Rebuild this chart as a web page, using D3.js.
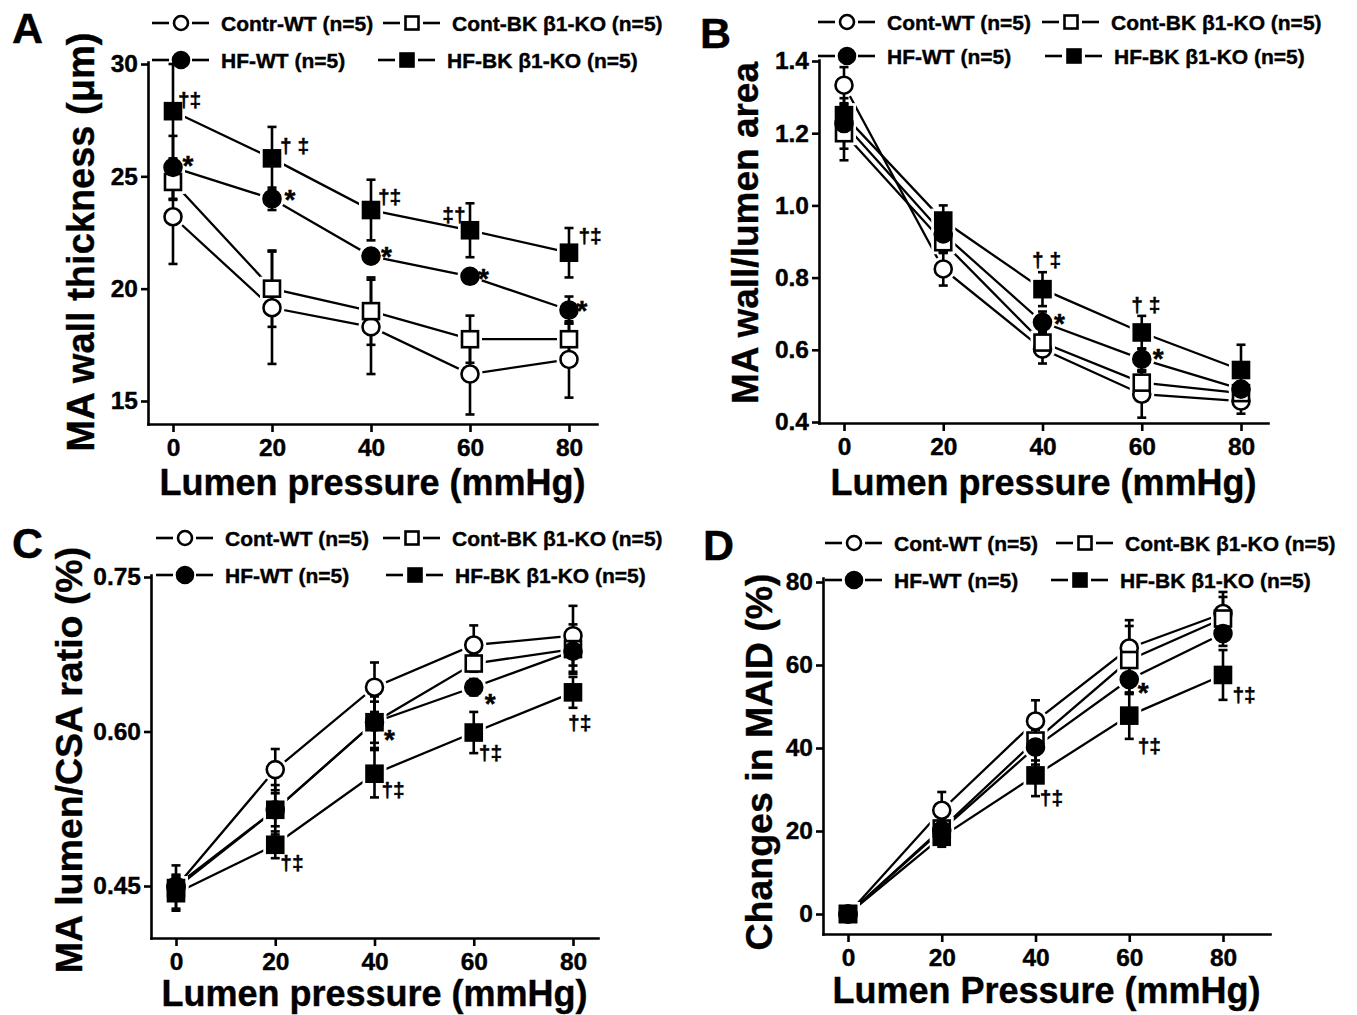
<!DOCTYPE html>
<html>
<head>
<meta charset="utf-8">
<script src="https://cdnjs.cloudflare.com/ajax/libs/d3/7.8.5/d3.min.js"></script>
<style>
  body { margin: 0; background: #fff; }
  svg text { font-family: "Liberation Sans", Arial, sans-serif; font-weight: bold; fill: #000; stroke: #000; stroke-width: 0.4px; }
</style>
</head>
<body>
<svg id="fig" width="1357" height="1015"></svg>
<script>
// lumen pressure steps (mmHg)
var pressure = [0, 20, 40, 60, 80];

// A - MA wall thickness (um), mean and SEM
var aContWT = [23.2, 19.15, 18.3, 16.2, 16.85],  aContWTErr = [2.1, 2.5, 2.1, 1.8, 1.7];
var aContBK = [24.75, 20.0, 19.0, 17.75, 17.75], aContBKErr = [0.8, 1.7, 1.5, 1.05, 0.7];
var aHfWT   = [25.4, 24.0, 21.45, 20.55, 19.05], aHfWTErr   = [1.4, 0.5, 0.3, 0.3, 0.6];
var aHfBK   = [27.9, 25.8, 23.5, 22.6, 21.6],    aHfBKErr   = [2.1, 1.4, 1.35, 1.2, 1.1];

// B - MA wall/lumen area
var bContWT = [1.333, 0.824, 0.602, 0.477, 0.458], bContWTErr = [0.05, 0.046, 0.04, 0.065, 0.035];
var bContBK = [1.20, 0.898, 0.62, 0.509, 0.48],    bContBKErr = [0.075, 0.03, 0.03, 0.03, 0.02];
var bHfWT   = [1.227, 0.921, 0.676, 0.574, 0.491], bHfWTErr   = [0.07, 0.05, 0.03, 0.03, 0.02];
var bHfBK   = [1.25, 0.958, 0.768, 0.648, 0.544],  bHfBKErr   = [0.03, 0.042, 0.047, 0.046, 0.07];

// C - MA lumen/CSA ratio
var cContWT = [0.449, 0.563, 0.643, 0.684, 0.693], cContWTErr = [0.012, 0.02, 0.024, 0.019, 0.029];
var cContBK = [0.448, 0.524, 0.609, 0.666, 0.680], cContBKErr = [0.022, 0.024, 0.02, 0.008, 0.024];
var cHfWT   = [0.450, 0.524, 0.609, 0.643, 0.678], cHfWTErr   = [0.01, 0.016, 0.025, 0.008, 0.02];
var cHfBK   = [0.443, 0.490, 0.559, 0.599, 0.638], cHfBKErr   = [0.015, 0.013, 0.023, 0.02, 0.015];

// D - changes in MAID (%)
var dContWT = [0, 25.0, 46.5, 64.1, 72.4], dContWTErr = [0.8, 4.4, 5.0, 6.7, 5.2];
var dContBK = [0, 20.6, 41.8, 61.2, 71.2], dContBKErr = [0.8, 2.5, 4.8, 8.2, 5.2];
var dHfWT   = [0, 20.2, 40.2, 56.5, 67.6], dHfWTErr   = [0.8, 2.0, 4.2, 3.3, 3.0];
var dHfBK   = [0, 18.6, 33.4, 47.8, 57.6], dHfBKErr   = [0.8, 2.4, 5.0, 5.6, 6.0];

// tick labels
var aTicks = [15, 20, 25, 30];
var bTicks = [0.4, 0.6, 0.8, 1.0, 1.2, 1.4];
var cTicks = [0.45, 0.60, 0.75];
var dTicks = [0, 20, 40, 60, 80];

// significance marks: [pressure, value, label]
var aMarks = [[1.0, 28.35, "†‡"], [1.9, 25.85, "*"], [21.6, 26.3, "† ‡"], [22.5, 24.3, "*"],
              [41.4, 24.06, "†‡"], [42, 21.8, "*"], [54.4, 23.26, "‡†"], [61.6, 20.8, "*"],
              [81.9, 22.3, "†‡"], [81.5, 19.4, "*"]];
var bMarks = [[37.9, 0.847, "† ‡"], [42.3, 0.694, "*"], [57.9, 0.722, "† ‡"], [62.2, 0.597, "*"]];
var cMarks = [[21, 0.472, "†‡"], [41.4, 0.543, "†‡"], [41.9, 0.600, "*"], [61, 0.578, "†‡"],
              [62.2, 0.635, "*"], [79, 0.608, "†‡"]];
var dMarks = [[61.8, 55.2, "*"], [40.9, 27.9, "†‡"], [61.8, 40.3, "†‡"], [82, 52.7, "†‡"]];

var svg = d3.select("#fig");

var symbols = [
  {shape: "circle", fill: "#fff"},
  {shape: "square", fill: "#fff"},
  {shape: "circle", fill: "#000"},
  {shape: "square", fill: "#000"}
];

var panels = [
  {letter: "A", lx: 12, ly: 43,
   left: 148, right: 597, top: 62, bottom: 424, x0: 173, x80: 569, yLo: 15, yLoPx: 401, yHi: 30, yHiPx: 64,
   ticks: aTicks, fmt: d3.format("d"),
   series: [[aContWT, aContWTErr], [aContBK, aContBKErr], [aHfWT, aHfWTErr], [aHfBK, aHfBKErr]],
   marks: aMarks,
   labels: ["Contr-WT (n=5)", "Cont-BK β1-KO (n=5)", "HF-WT (n=5)", "HF-BK β1-KO (n=5)"],
   leg: {x1: 152, x2: [383, 378], y: [23, 60]},
   ytitle: "MA wall thickness (μm)", ytx: 80, yty: 242, yts: 38,
   xtitle: "Lumen pressure (mmHg)", xtb: 495},
  {letter: "B", lx: 700, ly: 48,
   left: 819, right: 1268, top: 60, bottom: 423, x0: 844, x80: 1241, yLo: 0.4, yLoPx: 422, yHi: 1.4, yHiPx: 61,
   ticks: bTicks, fmt: d3.format(".1f"),
   series: [[bContWT, bContWTErr], [bContBK, bContBKErr], [bHfWT, bHfWTErr], [bHfBK, bHfBKErr]],
   marks: bMarks,
   labels: ["Cont-WT (n=5)", "Cont-BK β1-KO (n=5)", "HF-WT (n=5)", "HF-BK β1-KO (n=5)"],
   leg: {x1: 818, x2: [1042, 1045], y: [22, 56]},
   ytitle: "MA wall/lumen area", ytx: 745, yty: 233, yts: 37,
   xtitle: "Lumen pressure (mmHg)", xtb: 495},
  {letter: "C", lx: 12, ly: 558,
   left: 151, right: 598, top: 575, bottom: 938, x0: 176, x80: 573, yLo: 0.45, yLoPx: 886, yHi: 0.75, yHiPx: 577,
   ticks: cTicks, fmt: d3.format(".2f"),
   series: [[cContWT, cContWTErr], [cContBK, cContBKErr], [cHfWT, cHfWTErr], [cHfBK, cHfBKErr]],
   marks: cMarks,
   labels: ["Cont-WT (n=5)", "Cont-BK β1-KO (n=5)", "HF-WT (n=5)", "HF-BK β1-KO (n=5)"],
   leg: {x1: 156, x2: [383, 386], y: [538, 575]},
   ytitle: "MA lumen/CSA ratio (%)", ytx: 68, yty: 760, yts: 37.5,
   xtitle: "Lumen pressure (mmHg)", xtb: 1006},
  {letter: "D", lx: 703, ly: 560,
   left: 823, right: 1270, top: 578, bottom: 934, x0: 848, x80: 1223, yLo: 0, yLoPx: 914, yHi: 80, yHiPx: 582,
   ticks: dTicks, fmt: d3.format("d"),
   series: [[dContWT, dContWTErr], [dContBK, dContBKErr], [dHfWT, dHfWTErr], [dHfBK, dHfBKErr]],
   marks: dMarks,
   labels: ["Cont-WT (n=5)", "Cont-BK β1-KO (n=5)", "HF-WT (n=5)", "HF-BK β1-KO (n=5)"],
   leg: {x1: 825, x2: [1056, 1051], y: [543, 580]},
   ytitle: "Changes in MAID (%)", ytx: 758, yty: 762, yts: 37.5,
   xtitle: "Lumen Pressure (mmHg)", xtb: 1003}
];

function drawMarker(sel, sym, cx, cy, r, halo) {
  if (sym.shape == "circle") {
    sel.append("circle")
      .attr("cx", cx).attr("cy", cy).attr("r", halo ? r + 4 : r)
      .attr("fill", halo ? "#fff" : sym.fill)
      .attr("stroke", halo ? "none" : "#000")
      .attr("stroke-width", 2.6);
  } else {
    var s = halo ? r + 3.5 : r - 0.5;
    sel.append("rect")
      .attr("x", cx - s).attr("y", cy - s)
      .attr("width", 2 * s).attr("height", 2 * s)
      .attr("fill", halo ? "#fff" : sym.fill)
      .attr("stroke", halo ? "none" : "#000")
      .attr("stroke-width", 2.6);
  }
}

panels.forEach(function(p) {
  var g = svg.append("g");

  var x = d3.scaleLinear().domain([0, 80]).range([p.x0, p.x80]);
  x.domain([x.invert(p.left), x.invert(p.right)]).range([p.left, p.right]);
  var y = d3.scaleLinear().domain([p.yLo, p.yHi]).range([p.yLoPx, p.yHiPx]);
  y.domain([y.invert(p.bottom), y.invert(p.top)]).range([p.bottom, p.top]);

  // panel letter
  g.append("text").attr("x", p.lx).attr("y", p.ly)
    .attr("font-size", 43).text(p.letter);

  // axes
  var xAxis = g.append("g")
    .attr("transform", "translate(0," + p.bottom + ")")
    .call(d3.axisBottom(x).tickValues(pressure).tickSize(8).tickSizeOuter(0).tickPadding(7));
  var yAxis = g.append("g")
    .attr("transform", "translate(" + p.left + ",0)")
    .call(d3.axisLeft(y).tickValues(p.ticks).tickFormat(p.fmt).tickSize(7).tickSizeOuter(0).tickPadding(3));
  [xAxis, yAxis].forEach(function(a) {
    a.attr("font-size", 24.5).attr("font-family", null);
    a.selectAll("path, line").attr("stroke", "#000").attr("stroke-width", 2.6);
    a.select(".domain").attr("stroke-linecap", "square");
  });

  // axis titles
  g.append("text")
    .attr("x", (p.left + p.right) / 2).attr("y", p.xtb)
    .attr("text-anchor", "middle").attr("font-size", 36)
    .text(p.xtitle);
  g.append("text")
    .attr("transform", "translate(" + p.ytx + "," + p.yty + ") rotate(-90)")
    .attr("text-anchor", "middle").attr("dy", "0.36em").attr("font-size", p.yts)
    .text(p.ytitle);

  // connecting lines
  var line = d3.line().x(function(d) { return x(d[0]); }).y(function(d) { return y(d[1]); });
  p.series.forEach(function(s) {
    g.append("path")
      .datum(d3.zip(pressure, s[0]))
      .attr("d", line)
      .attr("fill", "none").attr("stroke", "#000").attr("stroke-width", 2.3);
  });

  // white gap round the symbols
  var halo = g.append("g");
  p.series.forEach(function(s, i) {
    s[0].forEach(function(v, j) { drawMarker(halo, symbols[i], x(pressure[j]), y(v), 8.5, true); });
  });

  // error bars
  var eb = g.append("g").attr("stroke", "#000").attr("stroke-width", 2.6);
  p.series.forEach(function(s) {
    s[0].forEach(function(v, j) {
      var cx = x(pressure[j]), lo = y(v - s[1][j]), hi = y(v + s[1][j]);
      eb.append("line").attr("x1", cx).attr("x2", cx).attr("y1", lo).attr("y2", hi);
      eb.append("line").attr("x1", cx - 4.5).attr("x2", cx + 4.5).attr("y1", lo).attr("y2", lo);
      eb.append("line").attr("x1", cx - 4.5).attr("x2", cx + 4.5).attr("y1", hi).attr("y2", hi);
    });
  });

  // symbols
  var mk = g.append("g");
  p.series.forEach(function(s, i) {
    s[0].forEach(function(v, j) { drawMarker(mk, symbols[i], x(pressure[j]), y(v), 8.5, false); });
  });

  // significance marks
  p.marks.forEach(function(m) {
    var star = m[2] == "*";
    g.append("text")
      .attr("x", x(m[0])).attr("y", y(m[1]))
      .attr("dy", star ? "0.62em" : "0.3em")
      .attr("font-size", star ? 28 : 21)
      .text(m[2]);
  });

  // legend
  var lg = g.append("g");
  p.labels.forEach(function(lab, i) {
    var row = i < 2 ? 0 : 1;
    var x0 = i % 2 == 0 ? p.leg.x1 : p.leg.x2[row];
    var ly = p.leg.y[row];
    lg.append("line").attr("x1", x0).attr("x2", x0 + 17).attr("y1", ly).attr("y2", ly)
      .attr("stroke", "#000").attr("stroke-width", 2.6);
    lg.append("line").attr("x1", x0 + 40).attr("x2", x0 + 57).attr("y1", ly).attr("y2", ly)
      .attr("stroke", "#000").attr("stroke-width", 2.6);
    drawMarker(lg, symbols[i], x0 + 29, ly, i == 2 ? 8 : 7, false);
    lg.append("text").attr("x", x0 + 69).attr("y", ly).attr("dy", "0.36em")
      .attr("font-size", 21).text(lab);
  });
});
</script>
</body>
</html>
